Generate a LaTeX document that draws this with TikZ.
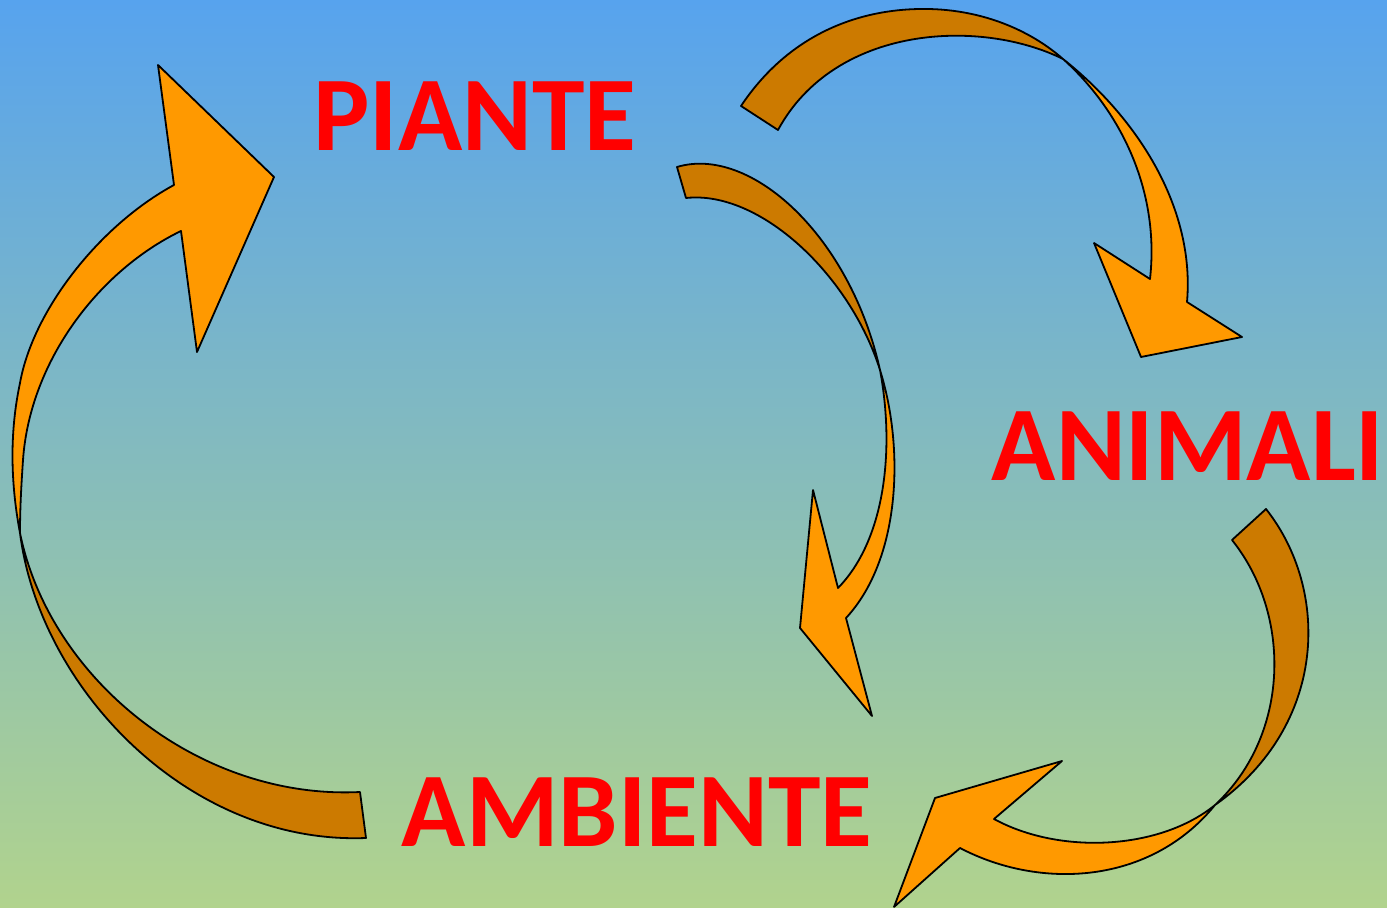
\documentclass[tikz,border=0pt]{standalone}
\usepackage{fontspec}
\newfontfamily\labelfont{Carlito}
\definecolor{sky}{HTML}{57A3EE}
\definecolor{haze}{HTML}{95C0BE}
\definecolor{meadow}{HTML}{B1D38D}
\definecolor{orangefront}{HTML}{FF9900}
\definecolor{orangeback}{HTML}{CC7A00}

\begin{document}
\begin{tikzpicture}[x=0.5pt,y=-0.5pt]
  %----- styles
  \tikzset{
    word/.style ={font=\labelfont\bfseries\fontsize{53}{60}\selectfont,text=red,inner sep=0pt,anchor=base},
    front/.style={fill=orangefront,draw=black,line width=0.9pt,line join=round},
    back/.style ={fill=orangeback,draw=black,line width=0.9pt,line join=round}
  }

  %----- background
  \useasboundingbox (0,0) rectangle (1387,908);
  \shade[top color=sky,middle color=haze,bottom color=meadow] (0,0) rectangle (1387,908);

  %----- labels
  \node[word] (piante)   at (475,151) {PIANTE};
  \node[word] (animali)  at (1188,481) {ANIMALI};
  \node[word] (ambiente) at (637,846) {AMBIENTE};

  %----- ambiente -> piante (left)
  \draw[back] (360,792) .. controls (200,800) and (50,680) .. (20,533)
    .. controls (40,690) and (190,845) .. (366,838) -- cycle;
  \draw[front] (20,533) .. controls (10,480) and (10,430) .. (20,383)
    .. controls (33,310) and (100,225) .. (174,185)
    -- (158,65) -- (274,177) -- (197,352) -- (181,231)
    .. controls (100,270) and (30,360) .. (23,460)
    .. controls (21,490) and (20,510) .. (20,533) -- cycle;

  %----- piante -> animali (top)
  \draw[back] (741,106) .. controls (785,40) and (850,10) .. (920,9)
    .. controls (980,8) and (1030,30) .. (1063,59)
    .. controls (980,18) and (835,25) .. (778,130) -- cycle;
  \draw[front] (1063,59) .. controls (1140,120) and (1195,210) .. (1187,302)
    -- (1242,337) -- (1141,357) -- (1094,243) -- (1150,279)
    .. controls (1160,190) and (1120,110) .. (1063,59) -- cycle;

  %----- piante -> ambiente (middle)
  \draw[back] (677,167) .. controls (750,145) and (850,235) .. (880,370)
    .. controls (850,275) and (760,190) .. (686,198) -- cycle;
  \draw[front] (880,370) .. controls (905,450) and (900,560) .. (846,618)
    -- (872,716) -- (800,628) -- (813,490) -- (838,588)
    .. controls (885,540) and (895,450) .. (880,370) -- cycle;

  %----- animali -> ambiente (bottom right)
  \draw[back] (1266,509) .. controls (1330,590) and (1328,725) .. (1215,805)
    .. controls (1290,735) and (1292,615) .. (1232,540) -- cycle;
  \draw[front] (1215,805) .. controls (1150,885) and (1040,890) .. (960,848)
    -- (894,907) -- (935,798) -- (1062,761) -- (994,819)
    .. controls (1060,855) and (1160,850) .. (1215,805) -- cycle;
\end{tikzpicture}
\end{document}
